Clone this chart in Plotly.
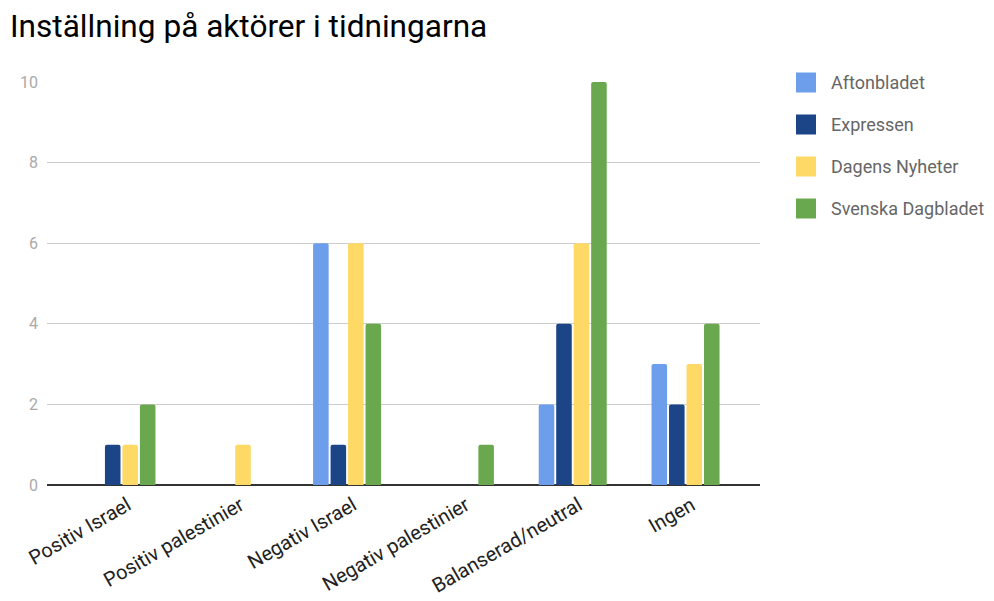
import plotly.graph_objects as go

categories = ["Positiv Israel", "Positiv palestinier", "Negativ Israel",
              "Negativ palestinier", "Balanserad/neutral", "Ingen"]
aftonbladet = [0, 0, 6, 0, 2, 3]
expressen = [1, 0, 1, 0, 4, 2]
dagens_nyheter = [1, 1, 6, 0, 6, 3]
svenska_dagbladet = [2, 0, 4, 1, 10, 4]

series = [
    ("Aftonbladet", aftonbladet, "#6d9eeb"),
    ("Expressen", expressen, "#1c4587"),
    ("Dagens Nyheter", dagens_nyheter, "#ffd966"),
    ("Svenska Dagbladet", svenska_dagbladet, "#6aa84f"),
]

# Figure is drawn at an 8px body offset in the page
W, H = 986, 593
ML, MR, MT, MB = 39, 234, 74, 116
PW, PH = W - ML - MR, H - MT - MB

fig = go.Figure()
for name, vals, color in series:
    fig.add_trace(go.Bar(x=categories, y=vals, name=name, marker_color=color,
                         marker_line_width=0, marker_cornerradius=2,
                         showlegend=False))

# Manual legend (larger swatches like the reference)
leg_x_sw = (798 - ML) / PW
leg_x_tx = (821 - ML) / PW
for i, (name, vals, color) in enumerate(series):
    cy = 74.5 + i * 42
    py = 1 - (cy - MT) / PH
    fig.add_shape(type="rect", xref="paper", yref="paper",
                  xsizemode="pixel", ysizemode="pixel",
                  xanchor=leg_x_sw, yanchor=py, x0=-10, x1=10, y0=-10, y1=10,
                  fillcolor=color, line_width=0)
    fig.add_annotation(xref="paper", yref="paper", x=leg_x_tx, y=py,
                       xanchor="left", yanchor="middle", showarrow=False,
                       text=name, font=dict(size=18, color="#666666"))

fig.update_layout(
    width=W, height=H,
    paper_bgcolor="white", plot_bgcolor="white",
    font=dict(family="Roboto, sans-serif"),
    title=dict(text="Inställning på aktörer i tidningarna", x=2 / W, xanchor="left",
               y=1 - 18 / H, yanchor="middle",
               font=dict(size=31.6, color="#000000")),
    margin=dict(l=ML, r=MR, t=MT, b=MB, autoexpand=False),
    barmode="group", bargap=0.38, bargroupgap=0.11,
    xaxis=dict(range=[-0.66, 5.66], tickangle=-30,
               tickfont=dict(size=20, color="#222222"), showgrid=False,
               showline=False, ticks="", ticklabelshift=6, ticklabelstandoff=4),
    yaxis=dict(range=[0, 10], dtick=2, tickfont=dict(size=16, color="#aaaaaa"),
               gridcolor="#cccccc", gridwidth=1, zeroline=True,
               zerolinecolor="#333333", zerolinewidth=2, ticks="",
               ticklabelstandoff=8),
)

fig.write_html("out.html")
